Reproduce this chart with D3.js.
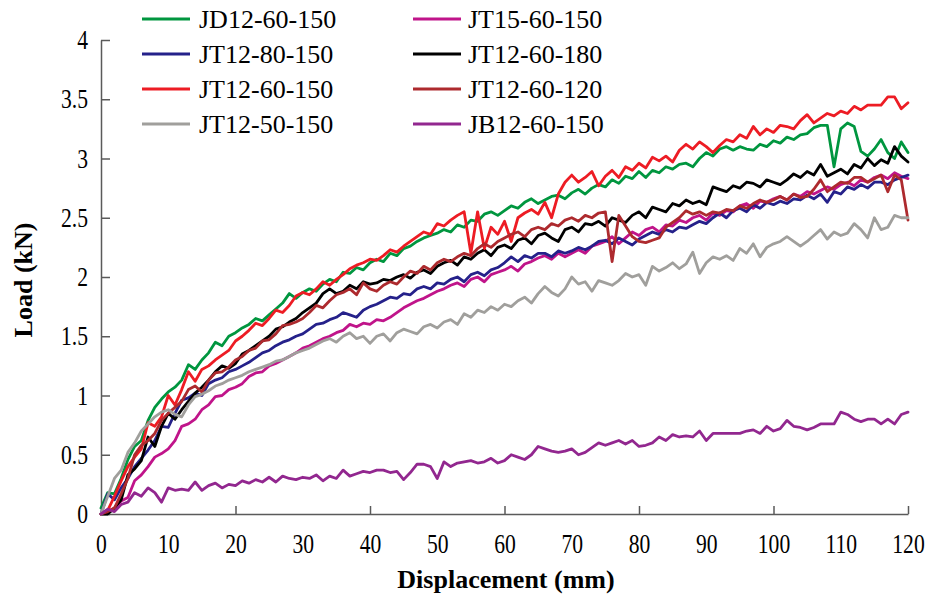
<!DOCTYPE html>
<html><head><meta charset="utf-8">
<script src="https://cdn.jsdelivr.net/npm/d3@7"></script>
<style>body{margin:0;background:#fff}svg{display:block}</style>
</head><body><svg id="c" width="930" height="595"></svg>
<script>
const displacement = [0,1,2,3,4,5,6,7,8,9,10,11,12,13,14,15,16,17,18,19,20,21,22,23,24,25,26,27,28,29,30,31,32,33,34,35,36,37,38,39,40,41,42,43,44,45,46,47,48,49,50,51,52,53,54,55,56,57,58,59,60,61,62,63,64,65,66,67,68,69,70,71,72,73,74,75,76,77,78,79,80,81,82,83,84,85,86,87,88,89,90,91,92,93,94,95,96,97,98,99,100,101,102,103,104,105,106,107,108,109,110,111,112,113,114,115,116,117,118,119,120];

const seriesNames = ["JD12-60-150","JT15-60-150","JT12-80-150","JT12-60-180","JT12-60-150","JT12-60-120","JT12-50-150","JB12-60-150"];
const seriesColors = ["#00963F","#C0148A","#25218A","#000000","#ED1C24","#AD2A2E","#A09F9C","#92278F"];

const jd12_60_150 = [0.05,0.18,0.17,0.30,0.46,0.57,0.62,0.79,0.90,0.97, 1.03,1.07,1.13,1.26,1.22,1.30,1.36,1.45,1.42,1.50, 1.53,1.57,1.60,1.65,1.63,1.68,1.73,1.78,1.86,1.82, 1.87,1.90,1.88,1.94,1.98,1.96,2.04,2.03,2.08,2.06, 2.12,2.15,2.13,2.20,2.18,2.24,2.26,2.30,2.33,2.35, 2.37,2.40,2.38,2.44,2.42,2.48,2.47,2.53,2.55,2.52, 2.56,2.60,2.58,2.63,2.66,2.62,2.65,2.68,2.69,2.66, 2.71,2.74,2.70,2.75,2.78,2.76,2.82,2.79,2.85,2.83, 2.89,2.84,2.90,2.88,2.93,2.91,2.95,2.96,2.93,3.00, 3.05,3.02,3.08,3.10,3.07,3.10,3.08,3.07,3.12,3.10, 3.15,3.13,3.18,3.16,3.20,3.21,3.26,3.28,3.28,2.93, 3.25,3.30,3.27,3.06,3.02,3.08,3.16,3.05,3.00,3.14, 3.05];
const jt15_60_150 = [0,0.02,0.05,0.11,0.14,0.28,0.33,0.40,0.48,0.51, 0.55,0.62,0.74,0.76,0.80,0.88,0.92,0.99,1.00,1.05, 1.07,1.10,1.16,1.19,1.20,1.25,1.27,1.30,1.33,1.36, 1.40,1.42,1.45,1.48,1.50,1.53,1.55,1.60,1.58,1.61, 1.60,1.64,1.63,1.66,1.70,1.74,1.77,1.80,1.82,1.85, 1.88,1.90,1.93,1.95,1.92,1.98,2.00,1.96,2.02,2.04, 2.06,2.09,2.05,2.11,2.13,2.16,2.18,2.15,2.20,2.17, 2.20,2.23,2.20,2.26,2.28,2.30,2.34,2.28,2.33,2.38, 2.35,2.40,2.42,2.38,2.44,2.43,2.48,2.46,2.50,2.52, 2.48,2.54,2.52,2.56,2.55,2.60,2.62,2.58,2.64,2.63, 2.66,2.68,2.65,2.70,2.68,2.72,2.70,2.73,2.76,2.74, 2.78,2.80,2.77,2.82,2.80,2.84,2.86,2.83,2.88,2.85, 2.83];
const jt12_80_150 = [0,0.17,0.12,0.22,0.30,0.40,0.47,0.54,0.62,0.74, 0.73,0.85,0.96,0.98,1.02,1.00,1.10,1.13,1.15,1.20, 1.22,1.25,1.28,1.32,1.36,1.38,1.42,1.45,1.47,1.50, 1.52,1.56,1.60,1.61,1.64,1.66,1.70,1.68,1.66,1.72, 1.75,1.77,1.80,1.83,1.82,1.86,1.85,1.90,1.92,1.90, 1.95,1.94,1.98,2.00,1.96,2.02,2.04,2.01,2.06,2.08, 2.12,2.17,2.13,2.18,2.16,2.20,2.20,2.17,2.22,2.20, 2.22,2.25,2.23,2.26,2.30,2.31,2.28,2.33,2.30,2.27, 2.32,2.35,2.38,2.36,2.40,2.38,2.42,2.41,2.44,2.47, 2.45,2.50,2.54,2.50,2.56,2.58,2.55,2.61,2.58,2.63, 2.61,2.64,2.62,2.66,2.65,2.69,2.66,2.70,2.63,2.72, 2.70,2.76,2.74,2.78,2.75,2.80,2.80,2.78,2.82,2.84, 2.86];
const jt12_60_180 = [0,0,0.05,0.12,0.33,0.38,0.45,0.65,0.57,0.74, 0.85,0.80,0.88,0.95,1.02,1.07,1.13,1.20,1.25,1.23, 1.27,1.35,1.38,1.42,1.46,1.50,1.56,1.58,1.62,1.65, 1.70,1.74,1.78,1.86,1.90,1.86,1.88,1.93,1.90,1.96, 1.94,1.95,1.98,1.97,2.00,2.02,1.99,2.04,2.06,2.03, 2.09,2.12,2.14,2.10,2.17,2.15,2.20,2.23,2.18,2.25, 2.27,2.24,2.31,2.33,2.28,2.35,2.37,2.33,2.30,2.40, 2.42,2.38,2.45,2.44,2.47,2.43,2.50,2.48,2.46,2.52, 2.55,2.50,2.59,2.57,2.55,2.62,2.60,2.65,2.62,2.64, 2.61,2.76,2.74,2.72,2.77,2.75,2.80,2.79,2.76,2.82, 2.80,2.78,2.82,2.87,2.84,2.89,2.86,2.95,2.85,2.88, 2.91,2.87,2.95,2.92,3.00,2.94,2.99,2.96,3.10,3.02, 2.97];
const jt12_60_150 = [0,0.03,0.15,0.28,0.40,0.48,0.55,0.77,0.74,0.82, 1.00,0.92,1.05,1.20,1.12,1.22,1.25,1.30,1.34,1.38, 1.46,1.50,1.55,1.61,1.59,1.65,1.72,1.70,1.76,1.84, 1.87,1.85,1.90,1.96,1.93,1.98,2.02,2.07,2.10,2.12, 2.15,2.14,2.18,2.23,2.21,2.26,2.30,2.34,2.38,2.36, 2.45,2.43,2.48,2.52,2.55,2.20,2.55,2.24,2.42,2.36, 2.47,2.30,2.50,2.54,2.57,2.53,2.63,2.50,2.70,2.80, 2.86,2.80,2.84,2.89,2.77,2.85,2.90,2.84,2.93,2.90, 2.96,2.92,3.01,2.98,3.02,2.97,3.07,3.12,3.08,3.14, 3.10,3.05,3.11,3.16,3.14,3.20,3.17,3.27,3.20,3.25, 3.22,3.28,3.27,3.25,3.32,3.37,3.30,3.34,3.38,3.36, 3.40,3.38,3.44,3.41,3.45,3.45,3.45,3.52,3.52,3.42, 3.47];
const jt12_60_120 = [0,0.02,0.05,0.17,0.30,0.50,0.58,0.62,0.68,0.79, 0.85,0.90,0.95,1.05,1.08,1.03,1.13,1.19,1.20,1.24, 1.30,1.33,1.38,1.40,1.46,1.47,1.52,1.59,1.60,1.62, 1.65,1.70,1.76,1.74,1.80,1.85,1.87,1.90,1.85,1.95, 1.90,1.88,1.93,1.96,1.94,2.00,2.05,2.03,2.09,2.06, 2.12,2.15,2.13,2.17,2.20,2.18,2.24,2.28,2.25,2.30, 2.33,2.36,2.38,2.34,2.40,2.42,2.40,2.45,2.43,2.48, 2.50,2.47,2.52,2.50,2.54,2.55,2.13,2.52,2.43,2.34, 2.30,2.29,2.31,2.33,2.42,2.46,2.50,2.56,2.53,2.55, 2.52,2.55,2.54,2.57,2.56,2.60,2.58,2.62,2.65,2.63, 2.65,2.68,2.65,2.70,2.67,2.68,2.74,2.82,2.72,2.76, 2.80,2.79,2.84,2.84,2.80,2.83,2.86,2.72,2.86,2.82, 2.48];
const jt12_50_150 = [0,0.15,0.30,0.37,0.52,0.60,0.70,0.76,0.82,0.86, 0.88,0.84,0.82,0.92,0.99,1.01,1.04,1.08,1.10,1.13, 1.15,1.17,1.20,1.22,1.24,1.26,1.29,1.30,1.33,1.36, 1.38,1.40,1.43,1.46,1.48,1.45,1.50,1.53,1.48,1.50, 1.44,1.50,1.52,1.46,1.53,1.56,1.54,1.52,1.58,1.60, 1.57,1.62,1.64,1.60,1.69,1.66,1.72,1.70,1.75,1.72, 1.77,1.75,1.80,1.83,1.78,1.86,1.92,1.87,1.84,1.90, 2.00,1.94,1.96,1.88,1.97,1.95,1.93,1.97,2.03,2.00, 2.02,1.93,2.09,2.05,2.08,2.12,2.07,2.11,2.21,2.03, 2.12,2.17,2.15,2.18,2.14,2.24,2.20,2.28,2.17,2.25, 2.28,2.30,2.34,2.30,2.26,2.30,2.35,2.40,2.32,2.38, 2.35,2.37,2.45,2.40,2.33,2.50,2.40,2.42,2.52,2.50, 2.50];
const jb12_60_150 = [0,0.04,0.02,0.08,0.10,0.18,0.15,0.22,0.18,0.10, 0.22,0.20,0.21,0.20,0.27,0.20,0.24,0.26,0.22,0.25, 0.24,0.28,0.26,0.29,0.27,0.31,0.27,0.32,0.30,0.29, 0.31,0.30,0.33,0.28,0.32,0.30,0.37,0.32,0.34,0.36, 0.35,0.37,0.37,0.35,0.36,0.29,0.35,0.42,0.42,0.40, 0.30,0.44,0.40,0.43,0.44,0.45,0.43,0.44,0.47,0.43, 0.45,0.50,0.48,0.46,0.50,0.57,0.55,0.53,0.52,0.53, 0.55,0.50,0.52,0.56,0.60,0.58,0.60,0.62,0.59,0.62, 0.57,0.58,0.60,0.65,0.62,0.67,0.65,0.66,0.65,0.70, 0.62,0.68,0.68,0.68,0.68,0.68,0.70,0.71,0.68,0.74, 0.70,0.72,0.79,0.74,0.73,0.71,0.73,0.76,0.76,0.76, 0.86,0.84,0.80,0.78,0.80,0.80,0.76,0.80,0.76,0.84, 0.86];

const seriesValues = [jd12_60_150, jt15_60_150, jt12_80_150, jt12_60_180, jt12_60_150, jt12_60_120, jt12_50_150, jb12_60_150];

const xLabelTicks = [0,10,20,30,40,50,60,70,80,90,100,110,120];
const xMajorTicks = [0,20,40,60,80,100,120];
const yTicks = [0,0.5,1,1.5,2,2.5,3,3.5,4];
const xTitle = "Displacement (mm)";
const yTitle = "Load (kN)";

// ---------- drawing ----------
const FONT = "'Liberation Serif','Times New Roman',serif";
const SQ = 0.8; // horizontal condensing of tick labels
const AXC = "#5a5a5a";
const svg = d3.select("#c");
const x = d3.scaleLinear().domain([0,120]).range([101,908]);
const y = d3.scaleLinear().domain([0,4]).range([514,40]);

// y axis
const gy = svg.append("g").attr("transform","translate(101,0)")
  .call(d3.axisLeft(y).tickValues(yTicks).tickFormat(d=>String(d))
    .tickSizeInner(-9).tickSizeOuter(0).tickPadding(13));
gy.selectAll("text").attr("x", -13/SQ).attr("transform",`scale(${SQ},1)`);

// x axis labels
const gxl = svg.append("g").attr("transform","translate(0,514)")
  .call(d3.axisBottom(x).tickValues(xLabelTicks).tickFormat(d=>String(d))
    .tickSize(0).tickPadding(20));
gxl.select(".domain").remove();
gxl.selectAll("text").attr("transform",`scale(${SQ},1)`);

// x axis line + major ticks
const gx = svg.append("g").attr("transform","translate(0,514)")
  .call(d3.axisBottom(x).tickValues(xMajorTicks).tickFormat("")
    .tickSizeInner(-8).tickSizeOuter(0));

[gy,gxl,gx].forEach(g=>{
  g.attr("font-family",FONT).attr("font-size",27);
  g.selectAll("text").attr("fill","#000");
  g.selectAll(".domain").attr("stroke",AXC).attr("stroke-width",1.5);
  g.selectAll(".tick line").attr("stroke",AXC).attr("stroke-width",1.5);
});
gx.selectAll(".tick").filter(d=>d===0).remove();

// lines
const line = d3.line().x((d,i)=>x(displacement[i])).y(d=>y(d));
svg.append("g").selectAll("path").data(seriesValues).join("path")
  .attr("d", line).attr("fill","none")
  .attr("stroke",(d,i)=>seriesColors[i]).attr("stroke-width",2.8)
  .attr("stroke-linejoin","round").attr("stroke-linecap","round");

// legend
const lg = svg.append("g").attr("font-family",FONT).attr("font-size",26);
const colX = [142,413];
const items = lg.selectAll("g").data(seriesNames).join("g")
  .attr("transform",(d,i)=>`translate(${colX[i%2]},${19+Math.floor(i/2)*35})`);
items.append("line").attr("x1",0).attr("x2",48).attr("y1",0).attr("y2",0)
  .attr("stroke",(d,i)=>seriesColors[i]).attr("stroke-width",3);
items.append("text").attr("x",(d,i)=>i%2===0?57:55).attr("y",9).text(d=>d);

// titles
svg.append("text").attr("x",506).attr("y",588).attr("text-anchor","middle")
  .attr("font-family",FONT).attr("font-size",26).attr("font-weight","bold").text(xTitle);
svg.append("text").attr("transform","translate(32,280) rotate(-90)").attr("text-anchor","middle")
  .attr("font-family",FONT).attr("font-size",26).attr("font-weight","bold").text(yTitle);
</script>
</body></html>
